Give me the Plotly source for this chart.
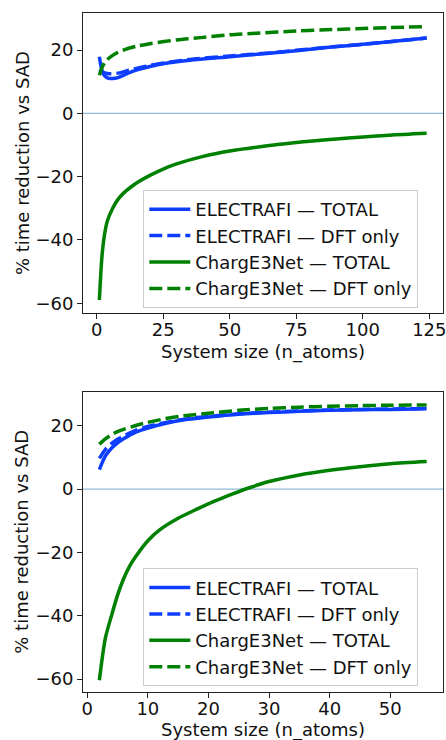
import plotly.graph_objects as go
from plotly.subplots import make_subplots

# ---------- Panel 1 data ----------
n1_green_total = [1, 2, 3, 4, 6, 8, 10, 13, 16, 20, 25, 30, 40, 50, 60, 75, 90, 100, 110, 124]
g1_total = [-59.0, -45.0, -38.0, -34.0, -30.0, -27.2, -25.3, -23.2, -21.5, -19.6, -17.6, -16.0,
            -13.6, -11.9, -10.7, -9.2, -8.1, -7.5, -6.9, -6.3]
n1_green_dft = [1, 2, 3, 4, 6, 8, 10, 15, 20, 30, 40, 50, 60, 75, 90, 100, 110, 124]
g1_dft = [12.0, 14.5, 16.0, 17.0, 18.3, 19.3, 20.0, 21.2, 22.0, 23.2, 24.0, 24.8, 25.3, 26.0,
          26.5, 26.8, 27.1, 27.4]
n1_blue = [1, 2, 3, 4, 5, 6, 8, 10, 14, 20, 26, 35, 50, 65, 75, 89, 100, 110, 124]
b1_total = [17.9, 13.5, 11.8, 11.2, 11.0, 11.0, 11.3, 12.0, 13.4, 14.8, 15.8, 16.8, 17.9, 19.0,
            19.8, 21.0, 21.8, 22.6, 23.8]
b1_dft = [13.8, 13.2, 12.8, 12.6, 12.5, 12.5, 12.7, 13.1, 14.0, 15.1, 16.0, 17.0, 18.1, 19.1,
          19.9, 21.0, 21.8, 22.6, 23.8]

# ---------- Panel 2 data ----------
n2 = [2, 3, 4, 5, 6, 8, 10, 13, 16, 20, 25, 30, 35, 40, 45, 50, 56]
b2_total = [6.2, 10.5, 12.9, 14.6, 15.9, 18.0, 19.3, 20.8, 21.9, 22.8, 23.7, 24.2, 24.6, 24.9,
            25.1, 25.2, 25.4]
b2_dft = [9.7, 12.6, 14.4, 15.8, 16.8, 18.6, 19.8, 21.1, 22.1, 23.0, 23.8, 24.3, 24.7, 25.0,
          25.2, 25.3, 25.5]
g2_dft = [14.2, 15.9, 17.2, 18.2, 18.9, 20.1, 21.1, 22.3, 23.2, 24.0, 24.9, 25.5, 25.9, 26.2,
          26.4, 26.5, 26.6]
n2_green_total = [2, 3, 4, 5, 6, 7, 8, 10, 12, 15, 18, 21, 24, 27, 30, 35, 40, 45, 50, 56]
g2_total = [-60.4, -47.0, -40.0, -33.5, -28.3, -24.3, -21.3, -16.3, -12.8, -9.2, -6.4, -3.8,
            -1.5, 0.6, 2.4, 4.5, 6.0, 7.1, 8.0, 8.7]

labels = ["ELECTRAFI — TOTAL", "ELECTRAFI — DFT only", "ChargE3Net — TOTAL", "ChargE3Net — DFT only"]
xtitle = "System size (n_atoms)"
ytitle = "% time reduction vs SAD"
tick1 = [0, 25, 50, 75, 100, 125]
tick2 = [0, 10, 20, 30, 40, 50]
yticks = [-60, -40, -20, 0, 20]
ytick_text = ["−60", "−40", "−20", "0", "20"]

BLUE = "#0d3dff"
GREEN = "#008000"
DASH = "13px,5px"
LW = 3.5
FONT = "DejaVu Sans"

fig = make_subplots(rows=2, cols=1)

def add(x, y, name, color, dash, row, legend):
    fig.add_trace(go.Scatter(x=x, y=y, name=name, mode="lines",
                             line=dict(color=color, width=LW, dash=dash, shape="spline", smoothing=0.8),
                             legend=legend, showlegend=True, hoverinfo="skip"), row=row, col=1)

add(n1_blue, b1_total, labels[0], BLUE, "solid", 1, "legend")
add(n1_blue, b1_dft, labels[1], BLUE, DASH, 1, "legend")
add(n1_green_total, g1_total, labels[2], GREEN, "solid", 1, "legend")
add(n1_green_dft, g1_dft, labels[3], GREEN, DASH, 1, "legend")

add(n2, b2_total, labels[0], BLUE, "solid", 2, "legend2")
add(n2, b2_dft, labels[1], BLUE, DASH, 2, "legend2")
add(n2_green_total, g2_total, labels[2], GREEN, "solid", 2, "legend2")
add(n2, g2_dft, labels[3], GREEN, DASH, 2, "legend2")

for r in (1, 2):
    fig.add_hline(y=0, line=dict(color="rgba(31,119,180,0.5)", width=1.2), row=r, col=1, layer="below")

axis_common = dict(showline=True, linecolor="#222", linewidth=1, mirror=True, ticks="outside",
                   ticklen=5, tickcolor="#222", showgrid=False, zeroline=False, automargin=False,
                   ticklabeloverflow="allow",
                   tickfont=dict(family=FONT, size=18, color="#111"))
xaxis_extra = dict(ticklabelstandoff=-5)

legend_common = dict(xanchor="left", yanchor="top", bgcolor="rgba(255,255,255,0.85)",
                     bordercolor="#cccccc", borderwidth=1, itemwidth=41,
                     font=dict(family=FONT, size=18, color="#111"), tracegroupgap=0)

fig.update_layout(
    width=446, height=740,
    margin=dict(l=83, r=3, t=13, b=48, autoexpand=False),
    plot_bgcolor="white", paper_bgcolor="white",
    font=dict(family=FONT, size=18, color="#111"),
    xaxis=dict(domain=[0, 1], range=[-5.15, 130.15], tickvals=tick1, **axis_common, **xaxis_extra),
    yaxis=dict(domain=[0.5577, 1], range=[-63.2, 31.7], tickvals=yticks, ticktext=ytick_text, **axis_common),
    xaxis2=dict(domain=[0, 1], range=[-0.7, 58.7], tickvals=tick2, **axis_common, **xaxis_extra),
    yaxis2=dict(domain=[0, 0.4423], range=[-64.1, 30.8], tickvals=yticks, ticktext=ytick_text, **axis_common),
    legend=dict(x=0.1675, y=0.7393, **legend_common),
    legend2=dict(x=0.1675, y=0.1822, **legend_common),
)

ann_font = dict(family=FONT, size=18, color="#111")
for yy in (0.5012, -0.056):
    fig.add_annotation(text=xtitle, xref="paper", yref="paper", x=0.5, y=yy,
                       xanchor="center", yanchor="middle", showarrow=False, font=ann_font)
for yy in (0.779, 0.2213):
    fig.add_annotation(text=ytitle, xref="paper", yref="paper", x=-0.1694, y=yy, textangle=-90,
                       xanchor="center", yanchor="middle", showarrow=False, font=ann_font)

fig.write_html("out.html", config={"displayModeBar": False},
               post_script="document.body.style.margin='0px';document.body.style.overflow='hidden';")
